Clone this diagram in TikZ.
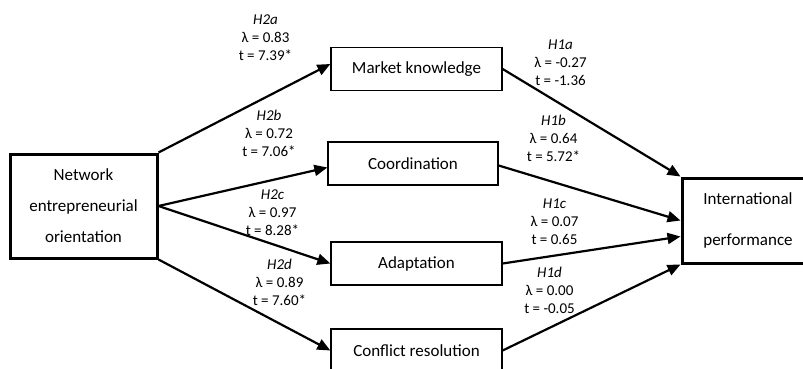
\documentclass[tikz,border=0pt]{standalone}
\usepackage{fontspec}
\setmainfont{Carlito}
\usetikzlibrary{arrows.meta}
\begin{document}
\begin{tikzpicture}[x=1pt,y=-1pt,
  thinbox/.style={draw,line width=1.3pt,minimum width=171pt,minimum height=43pt,inner sep=0pt,font=\fontsize{17}{17}\selectfont},
  thickbox/.style={draw,line width=3pt,inner sep=0pt,align=center},
  lbl/.style={align=center,inner sep=0pt,font=\fontsize{15}{18}\selectfont},
  arr/.style={line width=2.2pt,-{Triangle[length=13pt,width=11pt]}}]
\useasboundingbox (0,0) rectangle (803,369);
\clip (0,0) rectangle (803,369);
\node[thickbox,minimum width=147pt,minimum height=104pt,font=\fontsize{17}{31}\selectfont] (neo) at (83.5,206) {Network\\entrepreneurial\\orientation};
\node[thickbox,minimum width=132pt,minimum height=85pt,font=\fontsize{17}{41}\selectfont] (ip) at (748,220.5) {International\\performance};
\node[thinbox] (mk) at (416.5,69) {Market knowledge};
\node[thinbox,minimum width=170pt] (co) at (413,163.5) {Coordination};
\node[thinbox] (ad) at (416.5,263.5) {Adaptation};
\node[thinbox] (cr) at (416.5,350.5) {Conflict resolution};
\draw[arr] (neo.north east) -- ([yshift=5pt]mk.west);
\draw[arr] (neo.east) -- ([yshift=-4pt]co.west);
\draw[arr] (neo.east) -- (ad.west);
\draw[arr] (neo.south east) -- (cr.west);
\draw[arr] (mk.east) -- (ip.north west);
\draw[arr] ([yshift=-2pt]co.east) -- (ip.west);
\draw[arr] (ad.east) -- ([yshift=-16pt]ip.west);
\draw[arr] (cr.east) -- (ip.south west);
\node[lbl] (l2a) at (265.5,38) {\textit{H2a}\\λ = 0.83\\t = 7.39*};
\node[lbl] (l2b) at (269,133) {\textit{H2b}\\λ = 0.72\\t = 7.06*};
\node[lbl] (l2c) at (272.5,213) {\textit{H2c}\\λ = 0.97\\t = 8.28*};
\node[lbl] (l2d) at (279.5,282) {\textit{H2d}\\λ = 0.89\\t = 7.60*};
\node[lbl] (l1a) at (560.5,63) {\textit{H1a}\\λ = -0.27\\t = -1.36};
\node[lbl] (l1b) at (553.5,138) {\textit{H1b}\\λ = 0.64\\t = 5.72*};
\node[lbl] (l1c) at (554.5,222) {\textit{H1c}\\λ = 0.07\\t = 0.65};
\node[lbl] (l1d) at (549.5,290) {\textit{H1d}\\λ = 0.00\\t = -0.05};
\end{tikzpicture}
\end{document}
